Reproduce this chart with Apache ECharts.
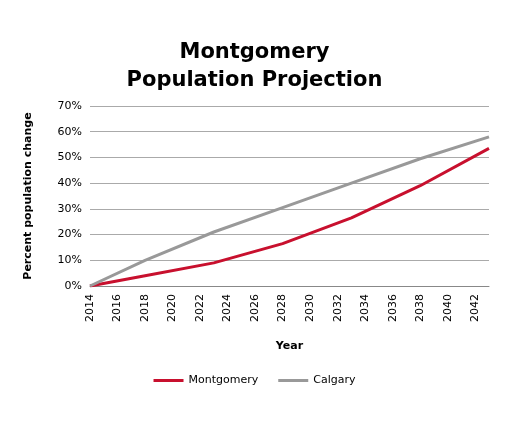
<!DOCTYPE html>
<html><head><meta charset="utf-8">
<script src="https://cdn.jsdelivr.net/npm/echarts@6/dist/echarts.min.js"></script>
<style>html,body{margin:0;padding:0;background:#fff}#c{width:509px;height:425px}</style>
</head><body><div id="c"></div>
<script>
const years = [2014, 2018, 2023, 2028, 2033, 2038, 2043];
const montgomery = [0, 4, 9, 16.5, 26.5, 39, 53.5];
const calgary = [0, 10, 21, 30.5, 40, 49.5, 58];
const chart = echarts.init(document.getElementById('c'));
chart.setOption({
  animation:false,
  title:{text:'Montgomery\nPopulation Projection',left:'center',top:34,
    textStyle:{fontFamily:'DejaVu Sans',fontSize:21,fontWeight:'bold',color:'#000',lineHeight:28}},
  grid:{left:90,right:20,top:106,bottom:139},
  legend:{bottom:34,left:'center',itemWidth:30,itemHeight:3,icon:'rect',itemGap:20,
    textStyle:{fontFamily:'DejaVu Sans',fontSize:11,color:'#000'}},
  xAxis:{type:'value',min:2014,max:2043,interval:2,name:'Year',nameLocation:'middle',nameGap:55,
    nameTextStyle:{fontFamily:'DejaVu Sans',fontWeight:'bold',fontSize:11,color:'#000'},
    axisLine:{lineStyle:{color:'#888'}},axisTick:{show:false},splitLine:{show:false},
    axisLabel:{rotate:90,showMaxLabel:false,fontFamily:'DejaVu Sans',fontSize:11,color:'#000',
      formatter:v=>v%2===0?String(v):''}},
  yAxis:{type:'value',min:0,max:70,interval:10,name:'Percent population change',nameLocation:'middle',nameGap:56,
    nameTextStyle:{fontFamily:'DejaVu Sans',fontWeight:'bold',fontSize:11,color:'#000'},
    axisLabel:{formatter:'{value}%',fontFamily:'DejaVu Sans',fontSize:11,color:'#000'},
    axisLine:{show:false},axisTick:{show:false},splitLine:{lineStyle:{color:'#aaa'}}},
  series:[
    {name:'Montgomery',type:'line',data:years.map((y,i)=>[y,montgomery[i]]),symbol:'none',
      lineStyle:{color:'#c8102e',width:3},itemStyle:{color:'#c8102e'}},
    {name:'Calgary',type:'line',data:years.map((y,i)=>[y,calgary[i]]),symbol:'none',
      lineStyle:{color:'#999',width:3},itemStyle:{color:'#999'}}
  ]
});
</script></body></html>
